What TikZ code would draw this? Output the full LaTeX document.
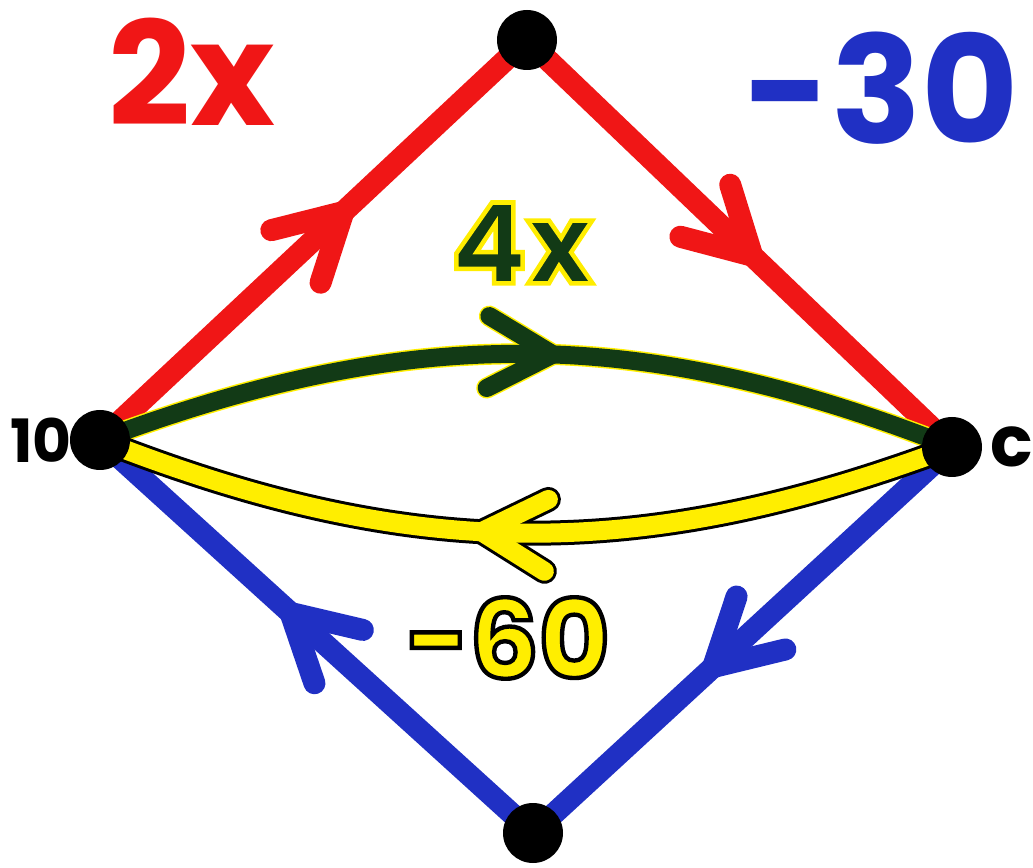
\documentclass[tikz,border=0pt]{standalone}
\usepackage{fontspec}
\setmainfont{Poppins}
\newfontfamily\outlinefont[FakeBold=4]{Poppins Bold}
\usetikzlibrary{decorations.markings,backgrounds}
\definecolor{penred}{RGB}{240, 22, 22}
\definecolor{penblue}{RGB}{32, 48, 196}
\definecolor{pengreen}{RGB}{18, 58, 22}
\definecolor{penyellow}{RGB}{255, 238, 0}
% stroke colour for the outlined labels
\newcommand\strokergb[1]{\special{pdf:literal #1 RG}}

\begin{document}
\begin{tikzpicture}[
    dot/.style={circle, fill=black, minimum size=1.2cm, inner sep=0pt},
    pen/.style={line width=0.44cm, line cap=round},
    chev/.style 2 args={postaction={decorate, decoration={markings,
        mark=at position #1 with {\draw[#2, line cap=round, line join=round] (-1.3,0.72) -- (0,0) -- (-1.3,-0.72);}}}},
    lbl/.style={font=\bfseries\fontsize{#1}{#1}\selectfont, inner sep=0pt},
    outl/.style={font=\outlinefont\fontsize{#1}{#1}\selectfont, inner sep=0pt}
  ]
    \useasboundingbox (0,0) rectangle (20.66,17.34);

    \node[dot] (top) at (10.54, 16.54) {};
    \node[dot] (left) at (2.0, 8.54) {};
    \node[dot] (right) at (19.04, 8.4) {};
    \node[dot] (bottom) at (10.66, 0.68) {};

    \begin{pgfonlayer}{background}
      \draw[pen, penblue, chev={0.57}{penblue, line width=0.44cm}] (right.center) -- (bottom.center);
      \draw[pen, penblue, chev={0.56}{penblue, line width=0.44cm}] (bottom.center) -- (left.center);
      \draw[pen, penred, chev={0.57}{penred, line width=0.44cm}] (left.center) -- (top.center);
      \draw[pen, penred, chev={0.53}{penred, line width=0.44cm}] (top.center) -- (right.center);
      % green with a yellow halo
      \draw[pen, line width=0.42cm, penyellow, chev={0.53}{penyellow, line width=0.42cm}] (left.center) to[bend left=21] (right.center);
      \draw[pen, line width=0.36cm, pengreen, chev={0.53}{pengreen, line width=0.36cm}] (left.center) to[bend left=21] (right.center);
      % yellow with a black outline
      \draw[pen, line width=0.5cm, black, chev={0.55}{black, line width=0.5cm}] (right.center) to[bend left=21] (left.center);
      \draw[pen, line width=0.38cm, penyellow, chev={0.55}{penyellow, line width=0.38cm}] (right.center) to[bend left=21] (left.center);
    \end{pgfonlayer}

    \node[lbl=82, penred] (twox) at (3.84, 15.9) {2x};
    \node[lbl=85, penblue] (minusthirty) at (17.64, 15.58) {-30};
    \node[outl=64] (fourx) at (10.44, 12.48) {\textcolor{pengreen}{\strokergb{1 0.93 0}4x}};
    \node[outl=62] (minussixty) at (10.16, 4.58) {\textcolor{penyellow}{\strokergb{0 0 0}-60}};
    \node[lbl=34] (ten) at (0.82, 8.54) {10};
    \node[lbl=40] (cee) at (20.24, 8.4) {c};
  \end{tikzpicture}
\end{document}
